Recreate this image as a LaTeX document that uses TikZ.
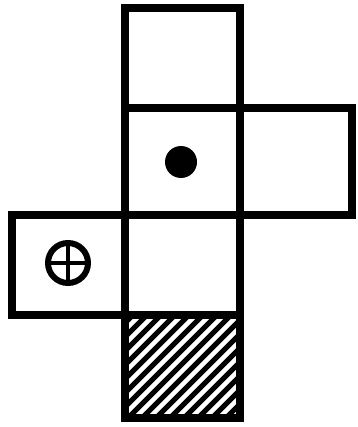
\documentclass[tikz,border=0pt]{standalone}
\begin{document}
\begin{tikzpicture}[x=1pt,y=-1pt,line width=8pt]
  \useasboundingbox (0,0) rectangle (357,427);
  % hatched face
  \begin{scope}
    \clip (125,315) rectangle (240,418);
    \foreach \x in {16,30,...,250}
      \draw[line width=5pt] (\x,418) -- (\x+103,315);
  \end{scope}
  % faces of the net
  \draw (125,8) rectangle (240,108);
  \draw (125,108) rectangle (240,215);
  \draw (240,108) rectangle (352,215);
  \draw (12,215) rectangle (125,315);
  \draw (125,215) rectangle (240,315);
  \draw (125,315) rectangle (240,418);
  % marks
  \fill (181,162) circle (16);
  \draw[line width=6pt] (68,263) circle (20);
  \draw[line width=4pt] (50,263) -- (86,263) (68,245) -- (68,281);
\end{tikzpicture}
\end{document}
